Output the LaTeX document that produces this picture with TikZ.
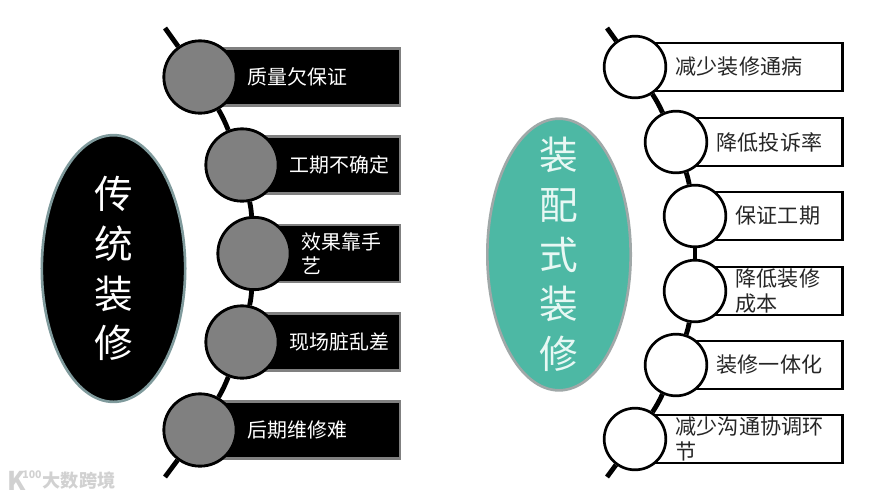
\documentclass[tikz,border=0pt]{standalone}
\usepackage{fontspec}
\setmainfont{Noto Sans CJK SC}
\usetikzlibrary{positioning, backgrounds, shapes.geometric}
\definecolor{oLine}{HTML}{7F9A9C}
\definecolor{nLine}{HTML}{A0A8A8}
\definecolor{nFill}{HTML}{4DB8A4}
\definecolor{nText}{HTML}{E8F8F4}

\begin{document}
\begin{tikzpicture}[x=0.03cm, y=-0.03cm, node distance=0.3cm,
      oval/.style={ellipse, line width=0.08cm, inner sep=0pt},
      ovalTxt/.style={inner sep=0pt, align=center,
                   font=\fontsize{33}{42.5}\selectfont},
      barL/.style={draw=black!50, fill=black, line width=0.075cm, anchor=west,
                   minimum height=1.72cm, inner sep=0pt},
      dotL/.style={circle, draw=black, fill=black!50, line width=0.085cm,
                   minimum size=2.17cm, inner sep=0pt},
      txtL/.style={text=white, inner sep=0pt, align=left,
                   font=\fontsize{17}{21}\selectfont},
      barR/.style={draw=black, fill=white, line width=0.08cm, anchor=west,
                   minimum height=1.44cm, inner sep=0pt},
      dotR/.style={circle, draw=black, fill=white, line width=0.08cm,
                   minimum size=1.85cm, inner sep=0pt},
      txtR/.style={text=black!85, inner sep=0pt, align=left,
                   font=\fontsize{18}{21}\selectfont},
      spine/.style={line width=0.145cm}]
    \useasboundingbox (0,0) rectangle (880,498);

    % left side
    \node[oval, draw=oLine, fill=black, minimum width=4.3cm, minimum height=8cm]
          (old) at (113.5,268.5) {};
    \node[ovalTxt, text=white] (oldT) at (old) {传\\统\\装\\修};
    \node[barL, minimum width=5.96cm] (b1) at (200,77)  {};
    \node[barL, minimum width=4.7cm]  (b2) at (242,165) {};
    \node[barL, minimum width=4.34cm] (b3) at (254,253.5) {};
    \node[barL, minimum width=4.7cm]  (b4) at (242,342) {};
    \node[barL, minimum width=5.96cm] (b5) at (200,430) {};
    \node[dotL] (c1) at (b1.west) {};
    \node[dotL] (c2) at (b2.west) {};
    \node[dotL] (c3) at (b3.west) {};
    \node[dotL] (c4) at (b4.west) {};
    \node[dotL] (c5) at (b5.west) {};
    \node[txtL, right=of c1] (t1) {质量欠保证};
    \node[txtL, right=of c2] (t2) {工期不确定};
    \node[txtL, right=of c3] (t3) {效果靠手\\艺};
    \node[txtL, right=of c4] (t4) {现场脏乱差};
    \node[txtL, right=of c5] (t5) {后期维修难};
    \coordinate (topL) at (165,28);
    \coordinate (botL) at (165,477);

    % right side
    \node[oval, draw=nLine, fill=nFill, minimum width=4.3cm, minimum height=8.15cm]
          (new) at (559,254.5) {};
    \node[ovalTxt, text=nText] (newT) at (new) {装\\配\\式\\装\\修};
    \node[barR, minimum width=6.18cm] (d1) at (635,67)  {};
    \node[barR, minimum width=4.95cm] (d2) at (676,142) {};
    \node[barR, minimum width=4.38cm] (d3) at (695,216) {};
    \node[barR, minimum width=4.38cm] (d4) at (695,291) {};
    \node[barR, minimum width=4.95cm] (d5) at (676,365) {};
    \node[barR, minimum width=6.18cm] (d6) at (635,439) {};
    \node[dotR] (e1) at (d1.west) {};
    \node[dotR] (e2) at (d2.west) {};
    \node[dotR] (e3) at (d3.west) {};
    \node[dotR] (e4) at (d4.west) {};
    \node[dotR] (e5) at (d5.west) {};
    \node[dotR] (e6) at (d6.west) {};
    \node[txtR, right=0.25cm of e1] (s1) {减少装修通病};
    \node[txtR, right=0.25cm of e2] (s2) {降低投诉率};
    \node[txtR, right=0.25cm of e3] (s3) {保证工期};
    \node[txtR, right=0.25cm of e4] (s4) {降低装修\\成本};
    \node[txtR, right=0.25cm of e5] (s5) {装修一体化};
    \node[txtR, right=0.25cm of e6] (s6) {减少沟通协调环\\节};
    \coordinate (topR) at (607,28);
    \coordinate (botR) at (607,477);

    \begin{pgfonlayer}{background}
      \draw[spine] (topL) -- (c1);
      \draw[spine] (c1) to[bend left=4] (c2);
      \draw[spine] (c2) to[bend left=4] (c3);
      \draw[spine] (c3) to[bend left=4] (c4);
      \draw[spine] (c4) to[bend left=4] (c5);
      \draw[spine] (c5) -- (botL);
      \draw[spine] (topR) -- (e1);
      \draw[spine] (e1) to[bend left=4] (e2);
      \draw[spine] (e2) to[bend left=4] (e3);
      \draw[spine] (e3) -- (e4);
      \draw[spine] (e4) to[bend left=4] (e5);
      \draw[spine] (e5) to[bend left=4] (e6);
      \draw[spine] (e6) -- (botR);
    \end{pgfonlayer}

    % watermark
    \node[text=black!18, font=\bfseries\fontsize{15.5}{15.5}\selectfont, inner sep=0pt]
          (mark) at (79,481) {大数跨境};
    \node[text=black!18, font=\bfseries\fontsize{22}{22}\selectfont, inner sep=0pt, left=0.5cm of mark]
          (logo) {K};
    \node[text=black!18, font=\bfseries\fontsize{9}{9}\selectfont, inner sep=0pt]
          (logoB) at (32,475) {100};
  \end{tikzpicture}
\end{document}
